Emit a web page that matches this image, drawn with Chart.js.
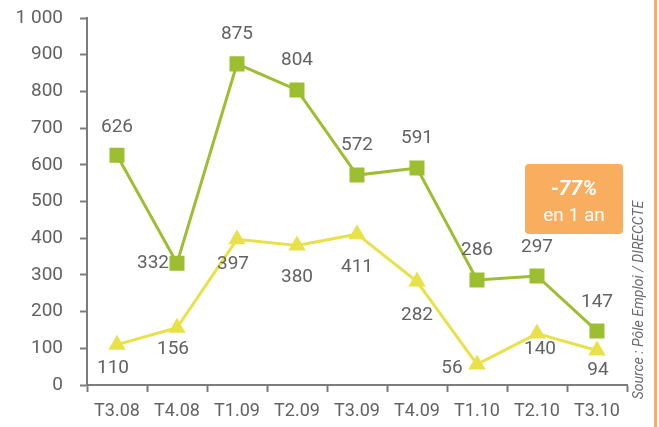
<!DOCTYPE html>
<html>
<head>
<meta charset="utf-8">
<script src="https://cdn.jsdelivr.net/npm/chart.js@4"></script>
<style>
  html, body { margin: 0; padding: 0; background: #fff; }
  #wrap { width: 659px; height: 427px; position: relative; }
</style>
</head>
<body>
<div id="wrap"><canvas id="chart"></canvas></div>
<script>
const quarters = ['T3.08', 'T4.08', 'T1.09', 'T2.09', 'T3.09', 'T4.09', 'T1.10', 'T2.10', 'T3.10'];
const greenValues = [626, 332, 875, 804, 572, 591, 286, 297, 147];
const yellowValues = [110, 156, 397, 380, 411, 282, 56, 140, 94];
const yTicks = [0, 100, 200, 300, 400, 500, 600, 700, 800, 900, 1000];

// label offsets from the point (dx, dy), in px
const greenLabelPos = [[0, -28], [-24, 0], [0, -30], [0, -30], [0, -30], [0, -30], [0, -30], [0, -29], [0, -29]];
const yellowLabelPos = [[-4, 24], [-4, 22], [-4, 25], [0, 32], [0, 33], [0, 34], [-25, 4], [3, 16], [1, 20]];

const GREEN = '#9cbe30';
const YELLOW = '#e9e14a';
const ORANGE = '#f8ae5e';
const GREY = '#7c7c7c';
const TEXT = '#626262';
const FONT = 'Roboto, sans-serif';

const valueLabels = {
    id: 'valueLabels',
    afterDatasetsDraw(chart) {
        const ctx = chart.ctx;
        const offsets = [greenLabelPos, yellowLabelPos];
        ctx.save();
        ctx.font = '19px ' + FONT;
        ctx.fillStyle = TEXT;
        ctx.textAlign = 'center';
        ctx.textBaseline = 'middle';
        chart.data.datasets.forEach(function (ds, di) {
            const meta = chart.getDatasetMeta(di);
            meta.data.forEach(function (pt, i) {
                const o = offsets[di][i];
                ctx.fillText(String(ds.data[i]), pt.x + o[0], pt.y + o[1]);
            });
        });
        ctx.restore();
    },
    afterDraw(chart) {
        const ctx = chart.ctx;
        ctx.save();
        // orange badge
        ctx.fillStyle = ORANGE;
        ctx.beginPath();
        ctx.roundRect(525, 164, 98, 70, 4);
        ctx.fill();
        ctx.fillStyle = '#ffffff';
        ctx.textAlign = 'center';
        ctx.textBaseline = 'middle';
        ctx.font = 'italic bold 21px ' + FONT;
        ctx.fillText('-77%', 574, 190);
        ctx.font = '19px ' + FONT;
        ctx.fillText('en 1 an', 574, 216);
        // source, vertical
        ctx.translate(639, 300);
        ctx.rotate(-Math.PI / 2);
        ctx.fillStyle = '#6a6a6a';
        ctx.font = 'italic 14px ' + FONT;
        ctx.fillText('Source : Pôle Emploi / DIRECCTE', 0, 0);
        ctx.restore();
        // orange rule on the right
        ctx.save();
        ctx.fillStyle = ORANGE;
        ctx.fillRect(654, 0, 3, 427);
        ctx.restore();
    }
};

new Chart(document.getElementById('chart'), {
    type: 'line',
    data: {
        labels: quarters,
        datasets: [{
            data: greenValues,
            borderColor: GREEN,
            backgroundColor: GREEN,
            borderWidth: 3,
            pointStyle: 'rect',
            pointRadius: 8.5,
            pointHoverRadius: 8.5,
            tension: 0
        }, {
            data: yellowValues,
            borderColor: YELLOW,
            backgroundColor: YELLOW,
            borderWidth: 3,
            pointStyle: 'triangle',
            pointRadius: 7,
            pointHoverRadius: 7,
            tension: 0
        }]
    },
    options: {
        responsive: true,
        maintainAspectRatio: false,
        animation: false,
        layout: { padding: { left: 0, right: 32, top: 18, bottom: 0 } },
        plugins: {
            legend: { display: false },
            tooltip: { enabled: false }
        },
        scales: {
            x: {
                offset: true,
                grid: {
                    offset: true,
                    drawOnChartArea: false,
                    drawTicks: true,
                    tickLength: 7,
                    tickWidth: 2,
                    color: GREY
                },
                border: { color: GREY, width: 2 },
                ticks: {
                    color: TEXT,
                    font: { family: FONT, size: 18 },
                    padding: 9,
                    maxRotation: 0,
                    autoSkip: false
                },
                afterFit: function (s) { s.height = 42; }
            },
            y: {
                min: 0,
                max: 1000,
                afterBuildTicks: function (s) {
                    s.ticks = yTicks.map(function (v) { return { value: v }; });
                },
                grid: {
                    drawOnChartArea: false,
                    drawTicks: true,
                    tickLength: 7,
                    tickWidth: 2,
                    color: GREY
                },
                border: { color: GREY, width: 2 },
                ticks: {
                    color: TEXT,
                    font: { family: FONT, size: 19 },
                    padding: 17,
                    callback: function (v) {
                        return v >= 1000 ? '1 000' : String(v);
                    }
                },
                afterFit: function (s) {
                    s.width = 87;
                    s.paddingTop = 0;
                    s.paddingBottom = 0;
                }
            }
        }
    },
    plugins: [valueLabels]
});
</script>
</body>
</html>
